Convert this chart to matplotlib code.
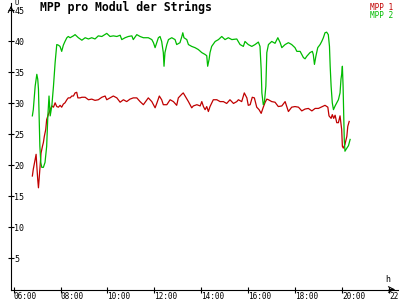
import matplotlib.pyplot as plt

# time of day in hours, MPP voltage per module
t1 = [6.80, 6.84, 6.92, 6.96, 6.99, 7.03, 7.06, 7.10, 7.13, 7.17, 7.23, 7.27, 7.31, 7.37, 7.41, 7.48,
      7.56, 7.63, 7.70, 7.77, 7.84, 7.91, 7.98, 8.05, 8.12, 8.19, 8.27, 8.33, 8.41, 8.48, 8.55, 8.62,
      8.69, 8.74, 8.83, 8.91, 9.05, 9.19, 9.33, 9.47, 9.61, 9.76, 9.90, 9.97, 10.11, 10.25, 10.40,
      10.54, 10.68, 10.82, 10.96, 11.10, 11.25, 11.39, 11.53, 11.68, 11.74, 11.89, 12.03, 12.10,
      12.21, 12.31, 12.38, 12.53, 12.67, 12.81, 12.95, 13.02, 13.17, 13.23, 13.31, 13.45, 13.59,
      13.66, 13.81, 13.95, 14.02, 14.09, 14.16, 14.23, 14.30, 14.37, 14.51, 14.66, 14.80, 14.94,
      15.08, 15.22, 15.37, 15.51, 15.58, 15.72, 15.83, 15.94, 16.00, 16.08, 16.17, 16.26, 16.36,
      16.46, 16.55, 16.64, 16.72, 16.79, 16.86, 17.00, 17.14, 17.28, 17.43, 17.57, 17.71, 17.85,
      17.99, 18.14, 18.28, 18.42, 18.56, 18.71, 18.85, 18.99, 19.16, 19.27, 19.39, 19.44, 19.53,
      19.58, 19.64, 19.70, 19.77, 19.84, 19.91, 19.98, 20.01, 20.05, 20.12, 20.20, 20.24, 20.30]
mpp1 = [18.3, 19.4, 21.0, 21.8, 19.9, 17.7, 16.4, 18.3, 19.9, 22.0, 23.1, 23.7, 24.7, 25.8, 27.4, 28.2,
        29.0, 29.6, 29.4, 30.1, 29.5, 29.4, 29.7, 29.4, 29.9, 30.1, 30.6, 30.9, 30.9, 31.2, 31.2, 31.7,
        31.8, 30.9, 30.9, 31.0, 31.0, 30.6, 30.7, 30.5, 30.6, 31.0, 31.2, 30.6, 30.9, 31.2, 30.9,
        30.2, 30.6, 30.3, 30.7, 30.9, 30.9, 30.3, 29.8, 30.6, 30.9, 30.3, 29.3, 30.0,
        31.2, 30.6, 29.8, 29.8, 30.6, 30.3, 29.7, 30.9, 31.5, 31.7, 31.2, 30.3, 29.3,
        29.6, 29.8, 29.6, 30.3, 29.5, 29.0, 29.5, 28.7, 29.5, 30.6, 30.6, 30.3, 30.3,
        30.0, 30.6, 30.0, 30.3, 30.6, 30.3, 31.7, 30.9, 29.7, 29.8, 31.0, 30.9, 29.4,
        29.0, 28.4, 29.4, 30.2, 30.7, 30.6, 30.3, 30.2, 29.5, 29.6, 30.3, 28.7, 29.4,
        29.5, 29.4, 28.8, 29.1, 29.2, 28.8, 29.2, 29.2, 29.5, 29.7, 29.4, 28.0, 27.6,
        28.2, 27.6, 28.1, 26.9, 26.9, 28.0, 25.8, 23.1, 22.8, 23.4, 24.7, 26.3, 27.1]

t2 = [6.80, 6.84, 6.92, 6.99, 7.03, 7.06, 7.09, 7.12, 7.16, 7.20, 7.27, 7.34, 7.41, 7.46, 7.51, 7.56,
      7.63, 7.70, 7.77, 7.84, 7.91, 7.98, 8.05, 8.12, 8.19, 8.27, 8.33, 8.41, 8.55, 8.62, 8.76, 8.91,
      9.05, 9.19, 9.33, 9.47, 9.61, 9.76, 9.97, 10.11, 10.25, 10.40, 10.54, 10.61, 10.75, 10.89,
      11.04, 11.10, 11.25, 11.39, 11.53, 11.74, 11.89, 11.96, 12.03, 12.10, 12.17, 12.24, 12.31,
      12.38, 12.41, 12.45, 12.53, 12.60, 12.74, 12.88, 12.95, 13.09, 13.17, 13.21, 13.26, 13.38,
      13.45, 13.59, 13.73, 13.87, 14.02, 14.16, 14.23, 14.27, 14.33, 14.37, 14.44, 14.59, 14.73,
      14.87, 15.01, 15.15, 15.30, 15.51, 15.65, 15.79, 15.86, 16.00, 16.15, 16.29, 16.43, 16.50,
      16.55, 16.58, 16.64, 16.69, 16.75, 16.79, 16.86, 17.00, 17.14, 17.26, 17.36, 17.43, 17.57,
      17.71, 17.85, 17.99, 18.07, 18.21, 18.28, 18.35, 18.42, 18.49, 18.56, 18.63, 18.73, 18.77,
      18.82, 18.88, 18.96, 19.06, 19.13, 19.20, 19.27, 19.34, 19.41, 19.46, 19.49, 19.53, 19.58,
      19.63, 19.70, 19.77, 19.84, 19.91, 19.95, 19.98, 20.01, 20.04, 20.07, 20.09, 20.12, 20.20,
      20.27, 20.34]
mpp2 = [28.0, 29.0, 32.8, 34.7, 33.9, 32.3, 28.0, 23.1, 20.5, 19.7, 19.7, 20.5, 23.1, 28.0, 31.2, 28.0,
        29.6, 32.8, 36.6, 39.5, 39.4, 39.2, 38.4, 39.4, 40.0, 40.6, 40.8, 40.6, 40.9, 41.1, 40.6, 40.2,
        40.6, 40.4, 40.6, 40.4, 40.9, 40.8, 41.3, 40.8, 40.9, 40.8, 41.0, 40.3, 40.6, 40.8,
        40.9, 40.3, 41.1, 40.8, 40.6, 40.6, 40.3, 39.8, 39.0, 39.8, 40.6, 40.8, 40.0,
        38.2, 36.0, 38.2, 39.5, 40.3, 40.6, 40.3, 39.5, 39.8, 40.8, 41.4, 40.6, 40.3,
        39.5, 39.2, 39.0, 38.7, 38.2, 37.9, 37.7, 36.0, 37.1, 38.2, 39.2, 40.0, 40.3,
        40.8, 40.3, 40.6, 40.3, 40.4, 39.5, 39.2, 40.0, 39.5, 39.2, 39.5, 39.9, 39.2,
        35.5, 31.7, 29.8, 30.3, 32.8, 38.2, 39.5, 40.0, 39.7, 40.6, 39.8, 39.0, 39.5,
        39.8, 39.5, 39.0, 38.4, 38.4, 37.9, 37.4, 37.2, 37.6, 37.9, 38.2, 38.4, 37.9,
        36.3, 37.6, 39.0, 39.5, 40.0, 40.6, 41.4, 41.5, 41.1, 39.2, 36.0, 32.8, 30.1,
        29.0, 29.6, 30.1, 30.6, 31.7, 33.9, 34.7, 36.0, 32.8, 27.4, 24.2, 22.3, 22.8,
        23.2, 24.2]

xticks = [6, 8, 10, 12, 14, 16, 18, 20, 22]
xlabels = ['06:00', '08:00', '10:00', '12:00', '14:00', '16:00', '18:00', '20:00', '22:00']
yticks = [5, 10, 15, 20, 25, 30, 35, 40, 45]

red = '#c00000'
green = '#00bb00'
mono = 'DejaVu Sans Mono'

fig = plt.figure(figsize=(4, 3), dpi=100)
ax = fig.add_axes([0.0275, 0.035, 0.9675, 0.955])

ax.plot(t1, mpp1, color=red, lw=0.9)
ax.plot(t2, mpp2, color=green, lw=0.9)

ax.set_xlim(5.89, 22.38)
ax.set_ylim(0, 46.2)

for s in ['top', 'right']:
    ax.spines[s].set_visible(False)
for s in ['left', 'bottom']:
    ax.spines[s].set_linewidth(0.8)

ax.set_xticks(xticks)
ax.set_xticklabels(xlabels, fontfamily=mono, fontsize=5.6)
ax.set_yticks(yticks)
ax.set_yticklabels([str(v) for v in yticks], fontfamily=mono, fontsize=6)
ax.tick_params(axis='both', direction='inout', length=4.5, width=0.8)
ax.tick_params(axis='y', pad=-4.5)
ax.tick_params(axis='x', pad=-0.5)
for lab in ax.get_yticklabels():
    lab.set_horizontalalignment('left')
for lab in ax.get_xticklabels():
    lab.set_horizontalalignment('left')

# axis arrows
ax.annotate('', xy=(1.0, 0), xytext=(0.97, 0), xycoords='axes fraction',
            arrowprops=dict(arrowstyle='->', lw=0.8, color='black'), annotation_clip=False)
ax.annotate('', xy=(0, 1.0), xytext=(0, 0.97), xycoords='axes fraction',
            arrowprops=dict(arrowstyle='->', lw=0.8, color='black'), annotation_clip=False)

fig.text(0.036, 1.0, 'U', fontfamily=mono, fontsize=5, va='top', ha='left')
fig.text(0.963, 0.055, 'h', fontfamily=mono, fontsize=6, va='bottom', ha='left')

fig.text(0.1, 0.975, 'MPP pro Modul der Strings', fontfamily=mono, fontsize=8.3,
         fontweight='bold', va='center', ha='left')
fig.text(0.925, 0.99, 'MPP 1', color=red, fontfamily=mono, fontsize=5.6, va='top', ha='left')
fig.text(0.925, 0.963, 'MPP 2', color=green, fontfamily=mono, fontsize=5.6, va='top', ha='left')

fig.savefig('out.png', dpi=100)
